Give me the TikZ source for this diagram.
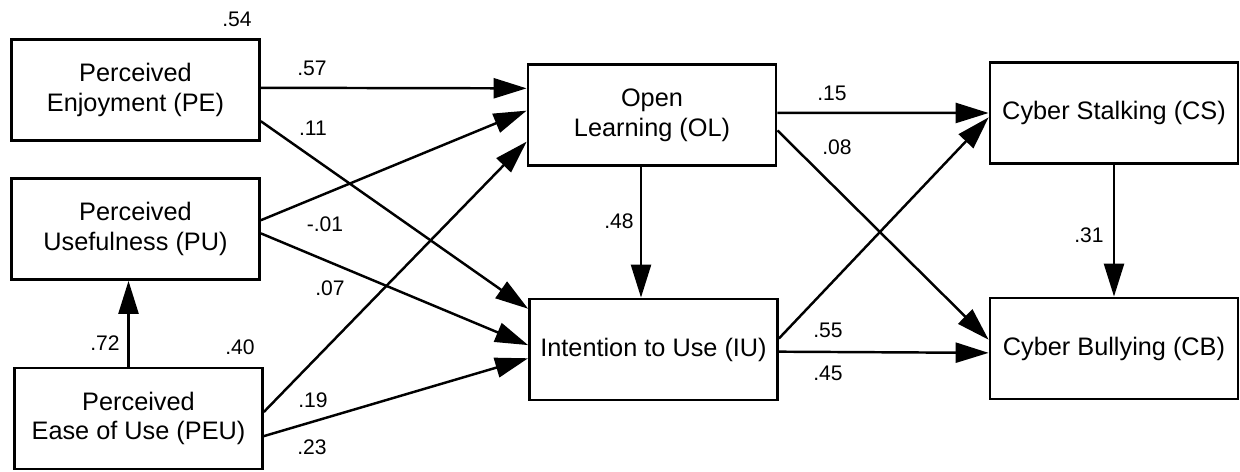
\documentclass[tikz,border=0pt]{standalone}
\usepackage{fontspec}
\setmainfont{Liberation Sans}
\usepackage{tikz}
\usetikzlibrary{arrows.meta}

\begin{document}
\begin{tikzpicture}
			[x=0.02cm,y=-0.02cm,
			box/.style={draw,line width=1.6pt,minimum width=4.96cm,minimum height=2.02cm,inner sep=2pt,align=center,font=\fontsize{14.4}{17}\selectfont},
			coef/.style={inner sep=0pt,font=\fontsize{12}{14}\selectfont},
			arr/.style={line width=1.4pt,-{Triangle[length=0.66cm,width=0.4cm]}}]
				\useasboundingbox (0,0) rectangle (1240,472);
				\node[box] (PE) at (135.5,90) {Perceived\\Enjoyment (PE)};
				\node[box] (PU) at (135.5,229) {Perceived\\Usefulness (PU)};
				\node[box] (PEU) at (138.5,418.5) {Perceived\\Ease of Use (PEU)};
				\node[box] (OL) at (652,115) {Open\\Learning (OL)};
				\node[box] (IU) at (653.5,349.5) {Intention to Use (IU)};
				\node[box] (CS) at (1114,113) {Cyber Stalking (CS)};
				\node[box] (CB) at (1114,348.5) {Cyber Bullying (CB)};
				% path coefficients
				\node[coef] (r54) at (237,19) {.54};
				\node[coef] (c57) at (312,68) {.57};
				\node[coef] (c11) at (313,128) {.11};
				\node[coef] (c01) at (325,224) {-.01};
				\node[coef] (c07) at (330,288) {.07};
				\node[coef] (c72) at (105,343) {.72};
				\node[coef] (r40) at (240,347) {.40};
				\node[coef] (c19) at (313,400) {.19};
				\node[coef] (c23) at (312,447) {.23};
				\node[coef] (c15) at (832,93) {.15};
				\node[coef] (c08) at (837,147) {.08};
				\node[coef] (c48) at (619,221) {.48};
				\node[coef] (c31) at (1089,235) {.31};
				\node[coef] (c55) at (828,330) {.55};
				\node[coef] (c45) at (828,373) {.45};
				\foreach \from/\to in {PE.1/OL.168,PE.-14.5/IU.162,PU.4/OL.178,PU.-2/IU.178,PEU.3/OL.192,PEU.-8/IU.184,OL.1/CS.180,OL.-7/CB.176,IU.5/CS.182,IU.-1/CB.182}
				\draw[arr] (\from) -- (\to);
				\draw[arr] ([xshift=-0.2cm]PEU.north) -- ([xshift=-0.2cm]PEU.north |- PU.south);
				\draw[arr] ([xshift=-0.22cm]OL.south) -- ([xshift=-0.22cm]OL.south |- IU.north);
				\draw[arr] (CS.south) -- (CB.north);
			\end{tikzpicture}
\end{document}
